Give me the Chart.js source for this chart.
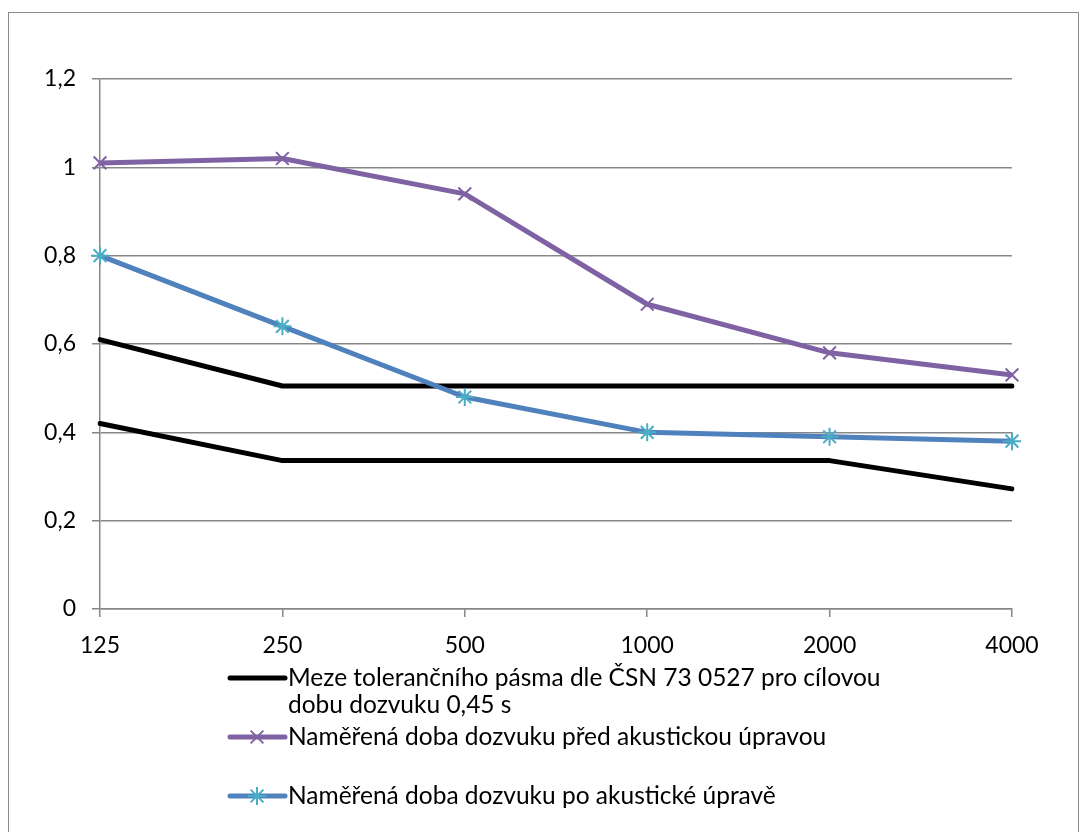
<!DOCTYPE html>
<html>
<head>
<meta charset="utf-8">
<script src="https://cdn.jsdelivr.net/npm/chart.js@4.4.1/dist/chart.umd.min.js"></script>
<style>
  html, body { margin: 0; padding: 0; background: #fff; overflow: hidden; }
  #frame { position: absolute; left: 8px; top: 12px; width: 1071px; height: 840px;
           border: 1.5px solid #8c8c8c; box-sizing: border-box; }
  #chart { position: absolute; left: 0; top: 0; }
  .sym { position: absolute; left: 226px; display: block; }
  .txt { position: absolute; left: 288px; white-space: nowrap;
         font-family: Lato, "Open Sans", sans-serif; font-size: 24.5px; line-height: 30px; color: #000; }
</style>
</head>
<body>
<div id="frame"></div>
<canvas id="chart" width="1087" height="832"></canvas>
<canvas class="sym" id="sym0" width="62" height="34" style="top:661px"></canvas>
<canvas class="sym" id="sym1" width="62" height="34" style="top:720px"></canvas>
<canvas class="sym" id="sym2" width="62" height="34" style="top:779px"></canvas>
<div class="txt" style="top:662px">Meze tolerančního pásma dle ČSN 73 0527 pro cílovou</div>
<div class="txt" style="top:689px">dobu dozvuku 0,45 s</div>
<div class="txt" style="top:721px">Naměřená doba dozvuku před akustickou úpravou</div>
<div class="txt" style="top:780px">Naměřená doba dozvuku po akustické úpravě</div>
<script>
// Octave-band centre frequencies (Hz)
const frequencies = ['125', '250', '500', '1000', '2000', '4000'];
// Tolerance band limits for a target reverberation time of 0.45 s (s)
const toleranceUpper = [0.61, 0.505, 0.505, 0.505, 0.505, 0.505];
const toleranceLower = [0.42, 0.336, 0.336, 0.336, 0.336, 0.272];
// Measured reverberation time (s)
const measuredBefore = [1.01, 1.02, 0.94, 0.69, 0.58, 0.53];
const measuredAfter = [0.80, 0.64, 0.48, 0.40, 0.39, 0.38];
// Value axis ticks
const yTickValues = [0, 0.2, 0.4, 0.6, 0.8, 1, 1.2];
const yTickLabels = ['0', '0,2', '0,4', '0,6', '0,8', '1', '1,2'];

const seriesNames = [
  'Meze tolerančního pásma dle ČSN 73 0527 pro cílovou dobu dozvuku 0,45 s',
  'Naměřená doba dozvuku před akustickou úpravou',
  'Naměřená doba dozvuku po akustické úpravě'
];

const BLACK = '#000000';
const PURPLE = '#7F62A3';
const BLUE = '#4F81BD';
const CYAN = '#4BACC6';
const GRID = '#878787';
const LINE_W = 5;
const FONT = { family: 'Lato, "Open Sans", sans-serif', size: 23 };

new Chart(document.getElementById('chart'), {
  type: 'line',
  data: {
    labels: frequencies,
    datasets: [
      { label: seriesNames[0], data: toleranceUpper, borderColor: BLACK, borderWidth: LINE_W,
        pointRadius: 0, tension: 0, order: 3, borderCapStyle: 'round', borderJoinStyle: 'round' },
      { label: seriesNames[0], data: toleranceLower, borderColor: BLACK, borderWidth: LINE_W,
        pointRadius: 0, tension: 0, order: 3, borderCapStyle: 'round', borderJoinStyle: 'round' },
      { label: seriesNames[1], data: measuredBefore, borderColor: PURPLE, borderWidth: LINE_W,
        pointStyle: 'crossRot', pointRadius: 9, pointBorderWidth: 2, pointBorderColor: PURPLE,
        pointBackgroundColor: PURPLE, tension: 0, order: 2, borderJoinStyle: 'round' },
      { label: seriesNames[2], data: measuredAfter, borderColor: BLUE, borderWidth: LINE_W,
        pointStyle: 'star', pointRadius: 9, pointBorderWidth: 2, pointBorderColor: CYAN,
        pointBackgroundColor: CYAN, tension: 0, order: 1, borderJoinStyle: 'round' }
    ]
  },
  options: {
    responsive: false,
    animation: false,
    layout: { padding: { left: 30, top: 79, right: 75, bottom: 178 } },
    plugins: { legend: { display: false }, tooltip: { enabled: false } },
    scales: {
      x: {
        type: 'category',
        offset: false,
        afterFit: s => { s.height = 45; },
        grid: { drawOnChartArea: false, drawTicks: true, tickLength: 8, color: GRID, lineWidth: 1.5 },
        border: { display: true, color: GRID, width: 1.5 },
        ticks: { font: FONT, color: '#000', padding: 15, maxRotation: 0, autoSkip: false }
      },
      y: {
        min: 0, max: 1.2,
        afterFit: s => { s.width = 70; },
        afterBuildTicks: s => { s.ticks = yTickValues.map(v => ({ value: v })); },
        grid: { drawOnChartArea: true, drawTicks: true, tickLength: 8, color: GRID, lineWidth: 1.5 },
        border: { display: true, color: GRID, width: 1.5 },
        ticks: {
          font: FONT, color: '#000', padding: 16,
          callback: v => yTickLabels[yTickValues.indexOf(v)]
        }
      }
    }
  }
});

// Legend symbols: line sample with the series marker in the middle
function drawSymbol(cv, color, width, marker, markerColor) {
  const c = cv.getContext('2d');
  const y = 17;
  c.strokeStyle = color; c.lineWidth = width; c.lineCap = 'round';
  c.beginPath(); c.moveTo(4, y); c.lineTo(cv.width - 3, y); c.stroke();
  if (!marker) return;
  const cx = 31, r = 9;
  c.strokeStyle = markerColor; c.lineWidth = 2; c.lineCap = 'butt';
  const d = r * Math.SQRT1_2;
  c.beginPath();
  c.moveTo(cx - d, y - d); c.lineTo(cx + d, y + d);
  c.moveTo(cx + d, y - d); c.lineTo(cx - d, y + d);
  if (marker === 'star') { c.moveTo(cx, y - r); c.lineTo(cx, y + r); c.moveTo(cx - r, y); c.lineTo(cx + r, y); }
  c.stroke();
}
drawSymbol(document.getElementById('sym0'), BLACK, LINE_W, null);
drawSymbol(document.getElementById('sym1'), PURPLE, LINE_W, 'crossRot', PURPLE);
drawSymbol(document.getElementById('sym2'), BLUE, LINE_W, 'star', CYAN);
</script>
</body>
</html>
